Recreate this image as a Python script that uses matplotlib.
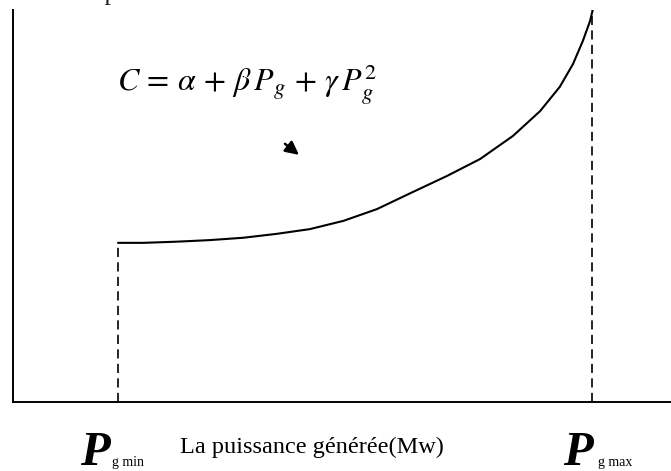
import matplotlib
matplotlib.use("Agg")
import matplotlib.pyplot as plt

# generation cost curve, normalised units (0-100 on both axes)
power = [16.0, 19.8, 24.9, 29.9, 35.0, 40.1, 45.1, 50.2, 55.3, 60.3,
         66.0, 71.0, 76.0, 80.1, 83.1, 85.1, 86.6, 87.7, 88.1]
cost = [40.6, 40.6, 40.9, 41.3, 41.9, 42.9, 44.1, 46.2, 49.2, 53.2,
        57.7, 62.0, 67.9, 74.2, 80.4, 86.2, 92.1, 97.2, 100.0]
p_min = 16.0
p_max = 88.0

title = "Le coût de production"
formula = r"$C\,=\,\alpha\,+\,\beta\,P_{g}\,+\,\gamma\,P_{g}^{2}$"
xlabel = "La puissance générée(Mw)"

plt.rcParams["mathtext.fontset"] = "stix"

fig = plt.figure(figsize=(6.71, 4.71), dpi=100)
W, H = 671.0, 471.0
ax = fig.add_axes([13 / W, 1 - 402 / H, 658 / W, 392 / H])
ax.set_xlim(0, 100)
ax.set_ylim(0, 100)

# cost curve and the two limits
ax.plot(power, cost, color="black", lw=1.5, solid_joinstyle="round")
ax.plot([p_min, p_min], [0, cost[0]], color="black", lw=1.2, dashes=(5.5, 3.2))
ax.plot([p_max, p_max], [0, 100], color="black", lw=1.2, dashes=(5.5, 3.2))

# little pointer under the formula
ax.annotate("", xy=(43.8, 62.6), xytext=(41.0, 66.3),
            arrowprops=dict(arrowstyle="-|>", mutation_scale=20, color="black", lw=1.8))

for side in ("top", "right"):
    ax.spines[side].set_visible(False)
for side in ("left", "bottom"):
    ax.spines[side].set_linewidth(1.4)
ax.set_xticks([])
ax.set_yticks([])

serif = "Liberation Serif"

# heading, mostly cut off by the top edge
fig.text(-14 / W, 1 + 0.4 / H, title, family=serif, size=19, va="baseline", ha="left", color="#222222")

fig.text(117 / W, 1 - 92 / H, formula, size=23, va="baseline", ha="left")

fig.text(80 / W, 1 - 465 / H, "P", family=serif, style="italic", weight="bold", size=35, va="baseline")
fig.text(112 / W, 1 - 466 / H, "g min", family=serif, size=10, va="baseline")
fig.text(180 / W, 1 - 453 / H, xlabel, family=serif, size=17.5, va="baseline")
fig.text(563 / W, 1 - 465 / H, "P", family=serif, style="italic", weight="bold", size=35, va="baseline")
fig.text(598 / W, 1 - 466 / H, "g max", family=serif, size=10, va="baseline")

fig.savefig("out.png", dpi=100)
